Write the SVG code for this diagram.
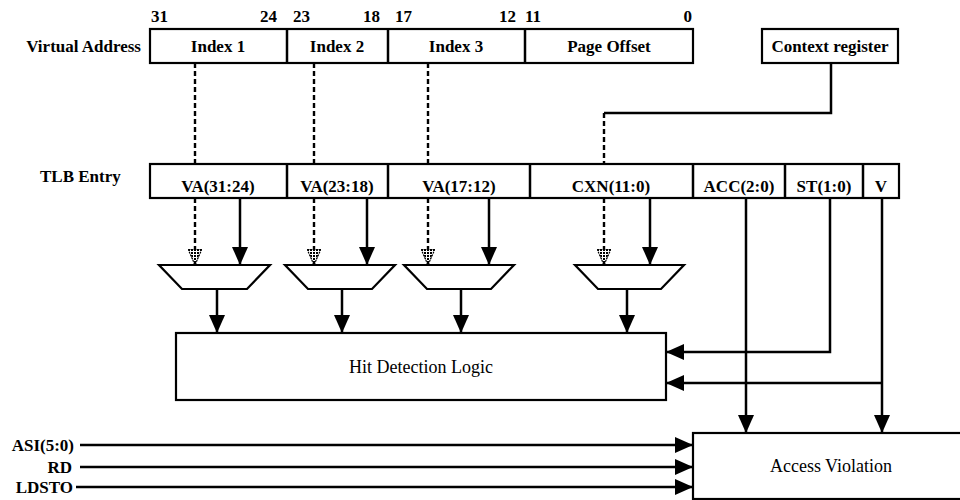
<svg xmlns="http://www.w3.org/2000/svg" width="960" height="500" viewBox="0 0 960 500">
<style>
text{font-family:"Liberation Serif","Times New Roman",serif;font-size:17px;font-weight:bold;fill:#000}
.m{text-anchor:middle}
.e{text-anchor:end}
.lt{font-weight:normal;font-size:18px}
.box{fill:#fff;stroke:#000;stroke-width:2.2}
.ln{fill:none;stroke:#000;stroke-width:2.5}
.dl{fill:none;stroke:#000;stroke-width:2.4;stroke-dasharray:5 3}
</style>
<defs>
<pattern id="dots" width="3" height="3" patternUnits="userSpaceOnUse">
<rect width="3" height="3" fill="#fff"/><rect width="2" height="2" fill="#000"/>
</pattern>
<marker id="a" markerUnits="userSpaceOnUse" markerWidth="18" markerHeight="16" refX="18" refY="8" orient="auto" viewBox="0 0 18 16">
<path d="M0,0 L18,8 L0,16 Z" fill="#000"/>
</marker>
<marker id="d" markerUnits="userSpaceOnUse" markerWidth="16" markerHeight="14" refX="16" refY="7" orient="auto" viewBox="0 0 16 14">
<path d="M0,0 L16,7 L0,14 Z" fill="url(#dots)" stroke="#000" stroke-width="1.2" stroke-dasharray="2 1"/>
</marker>
</defs>

<g id="bit-numbers">
<text x="151" y="22">31</text>
<text x="277" y="22" class="e">24</text>
<text x="293" y="22">23</text>
<text x="380" y="22" class="e">18</text>
<text x="395" y="22">17</text>
<text x="516" y="22" class="e">12</text>
<text x="525" y="22">11</text>
<text x="692" y="22" class="e">0</text>
</g>

<g id="virtual-address">
<text x="141" y="52" class="e">Virtual Address</text>
<rect class="box" x="150" y="29" width="543" height="34"/>
<line class="ln" x1="287" y1="29" x2="287" y2="63"/>
<line class="ln" x1="388" y1="29" x2="388" y2="63"/>
<line class="ln" x1="525" y1="29" x2="525" y2="63"/>
<text x="218" y="52" class="m">Index 1</text>
<text x="337" y="52" class="m">Index 2</text>
<text x="456" y="52" class="m">Index 3</text>
<text x="609" y="52" class="m">Page Offset</text>
</g>

<g id="context-register">
<rect class="box" x="762" y="29" width="136" height="34"/>
<text x="830" y="52" class="m">Context register</text>
</g>

<g id="tlb-entry">
<text x="40" y="182">TLB Entry</text>
<rect class="box" x="150" y="164" width="749" height="34"/>
<line class="ln" x1="287" y1="164" x2="287" y2="198"/>
<line class="ln" x1="388" y1="164" x2="388" y2="198"/>
<line class="ln" x1="530" y1="164" x2="530" y2="198"/>
<line class="ln" x1="693" y1="164" x2="693" y2="198"/>
<line class="ln" x1="785" y1="164" x2="785" y2="198"/>
<line class="ln" x1="863" y1="164" x2="863" y2="198"/>
<text x="218" y="192" class="m">VA(31:24)</text>
<text x="337" y="192" class="m">VA(23:18)</text>
<text x="459" y="192" class="m">VA(17:12)</text>
<text x="611" y="192" class="m">CXN(11:0)</text>
<text x="739" y="192" class="m">ACC(2:0)</text>
<text x="824" y="192" class="m">ST(1:0)</text>
<text x="881" y="192" class="m">V</text>
</g>

<g id="mux1"><path class="box" d="M159,265 L270,265 L247,289 L182,289 Z"/></g>
<g id="mux2"><path class="box" d="M285,265 L395,265 L372,289 L308,289 Z"/></g>
<g id="mux3"><path class="box" d="M404,265 L514,265 L491,289 L427,289 Z"/></g>
<g id="mux4"><path class="box" d="M575,265 L684,265 L661,289 L598,289 Z"/></g>

<g id="hit-detection">
<rect class="box" x="176" y="333" width="490" height="67"/>
<text x="421" y="373" class="m lt">Hit Detection Logic</text>
</g>

<g id="access-violation">
<rect class="box" x="693" y="433" width="275" height="66"/>
<text x="831" y="472" class="m lt">Access Violation</text>
</g>

<g id="input-labels">
<text x="74" y="451" class="e">ASI(5:0)</text>
<text x="72" y="473" class="e">RD</text>
<text x="73" y="493" class="e">LDSTO</text>
</g>

<g id="connectors">
<path class="dl" d="M195,63 V164"/>
<path class="dl" d="M195,198 V265" marker-end="url(#d)"/>
<path class="dl" d="M314,63 V164"/>
<path class="dl" d="M314,198 V265" marker-end="url(#d)"/>
<path class="dl" d="M428,63 V164"/>
<path class="dl" d="M428,198 V265" marker-end="url(#d)"/>
<path class="ln" d="M831,63 V113 H604"/>
<path class="dl" d="M604,113 V164"/>
<path class="dl" d="M604,198 V265" marker-end="url(#d)"/>
<path class="ln" d="M240,198 V265" marker-end="url(#a)"/>
<path class="ln" d="M367,198 V265" marker-end="url(#a)"/>
<path class="ln" d="M489,198 V265" marker-end="url(#a)"/>
<path class="ln" d="M650,198 V265" marker-end="url(#a)"/>
<path class="ln" d="M217,289 V333" marker-end="url(#a)"/>
<path class="ln" d="M342,289 V333" marker-end="url(#a)"/>
<path class="ln" d="M461,289 V333" marker-end="url(#a)"/>
<path class="ln" d="M627,289 V333" marker-end="url(#a)"/>
<path class="ln" d="M830,198 V352 H666" marker-end="url(#a)"/>
<path class="ln" d="M882,383 H666" marker-end="url(#a)"/>
<path class="ln" d="M882,198 V433" marker-end="url(#a)"/>
<path class="ln" d="M746,198 V433" marker-end="url(#a)"/>
<path class="ln" d="M80,445 H693" marker-end="url(#a)"/>
<path class="ln" d="M80,467 H693" marker-end="url(#a)"/>
<path class="ln" d="M76,487 H693" marker-end="url(#a)"/>
</g>
</svg>
